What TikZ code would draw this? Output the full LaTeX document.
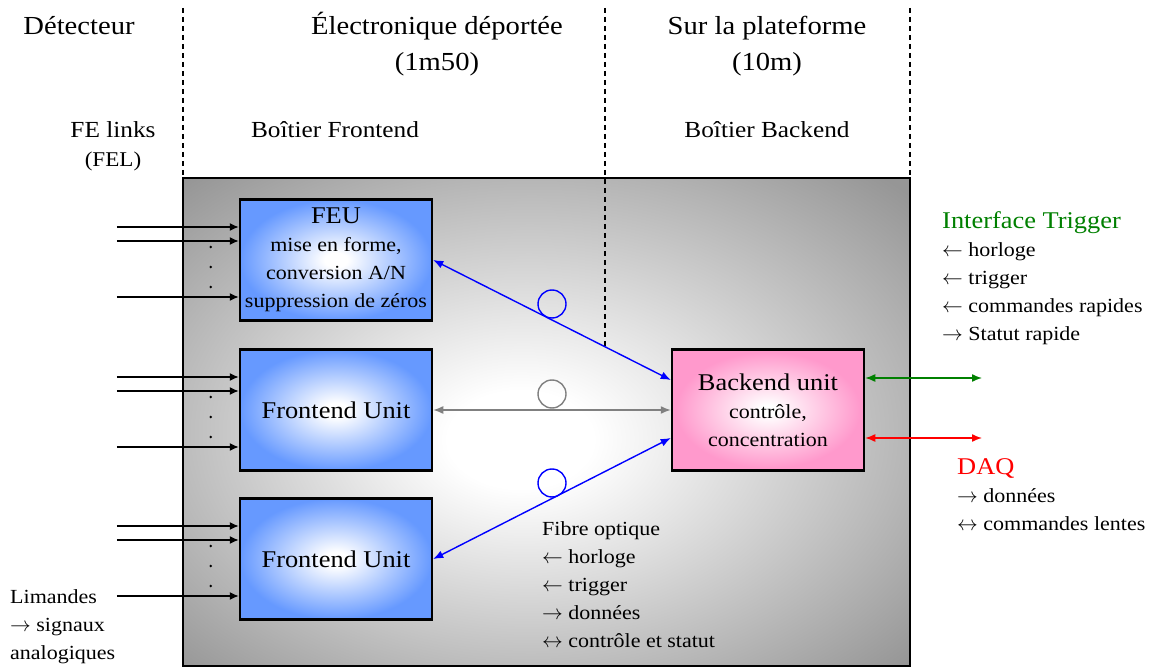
\documentclass[tikz,border=0pt]{standalone}
\usepackage{fontspec}
\setmainfont{Liberation Serif}[FakeStretch=1.1]
\usepackage{xcolor}
\usetikzlibrary{arrows.meta,calc}
\definecolor{feublue}{RGB}{102,153,255}
\definecolor{bepink}{RGB}{255,153,204}
\definecolor{boxgray}{RGB}{150,150,150}
\definecolor{trigreen}{RGB}{0,128,0}
\newcommand{\FT}{\fontsize{26}{30}\selectfont}
\newcommand{\FM}{\fontsize{23}{28}\selectfont}
\newcommand{\FB}{\fontsize{24}{28}\selectfont}
\newcommand{\FS}{\fontsize{20}{28}\selectfont}
\pgfdeclareradialshading{unitblue}{\pgfpoint{0bp}{0bp}}{color(0bp)=(white); color(3bp)=(white); color(25bp)=(feublue); color(50bp)=(feublue)}
\pgfdeclareradialshading{unitpink}{\pgfpoint{0bp}{0bp}}{color(0bp)=(white); color(2bp)=(white); color(24bp)=(bepink); color(50bp)=(bepink)}
\pgfdeclareradialshading{boxshade}{\pgfpoint{-2bp}{-2bp}}{color(0bp)=(white); color(5bp)=(white); color(35bp)=(boxgray); color(50bp)=(boxgray)}

\begin{document}
\begin{tikzpicture}[x=1pt,y=-1pt]
\tikzstyle{texto}=[draw=none,fill=none,black,inner sep=0pt]
\tikzstyle{sep}=[black,line width=1.3pt,dash pattern=on 5pt off 4pt]
\tikzstyle{unit}=[draw=black,line width=2.5pt,minimum width=192pt,minimum height=121pt,inner sep=0pt,align=center,shade,shading=unitblue]
\tikzstyle{bunit}=[unit,shading=unitpink]
\tikzstyle{input}=[black,line width=1.4pt,-{Latex[length=9pt,width=8pt]}]
\tikzstyle{fibre}=[blue,line width=1.4pt,{Latex[length=10pt,width=8pt]}-{Latex[length=10pt,width=8pt]}]
\tikzstyle{bobine}=[circle,draw,line width=1.4pt,minimum size=28pt,inner sep=0pt]

\useasboundingbox (0,0) rectangle (1160,668);
\draw[line width=2.5pt,shade,shading=boxshade] (183,178) rectangle (910,666);

\draw[sep] (183,8) -- (183,178);
\draw[sep] (605,8) -- (605,347);
\draw[sep] (910,8) -- (910,178);

\node[texto,font=\FT,anchor=base] (det) at (79,35) {Détecteur};
\node[texto,font=\FT,anchor=base] (elec) at (437,35) {Électronique déportée};
\node[texto,font=\FT,anchor=base] (elecd) at (437,71) {(1m50)};
\node[texto,font=\FT,anchor=base] (plat) at (767,35) {Sur la plateforme};
\node[texto,font=\FT,anchor=base] (platd) at (767,71) {(10m)};
\node[texto,font=\FM,anchor=base] (fel) at (113,138) {FE links};
\node[texto,font=\fontsize{21}{24}\selectfont,anchor=base] (feld) at (113,167) {(FEL)};
\node[texto,font=\FM,anchor=base] (bfe) at (335,138) {Boîtier Frontend};
\node[texto,font=\FM,anchor=base] (bbe) at (767,138) {Boîtier Backend};

\node[unit,font=\FS] (feu) at (336,260) {{\FB FEU}\\mise en forme,\\conversion A/N\\suppression de zéros};
\node[unit,font=\FB] (fu2) at (336,410) {Frontend Unit};
\node[unit,font=\FB] (fu3) at (336,559) {Frontend Unit};
\node[bunit,font=\FS] (be) at (768,410) {{\FB Backend unit}\\contrôle,\\concentration};

\foreach \u in {feu,fu2,fu3}{
  \foreach \dy/\k in {33/a,19/b,-37/c}{
    \coordinate (\u\k) at ([xshift=-122pt,yshift=\dy pt]\u.west);
    \draw[input] (\u\k) -- (\u\k -| \u.west);
  }
  \foreach \dy in {13,-7,-27}
    \fill ([xshift=-28pt,yshift=\dy pt]\u.west) circle (1.3pt);
}

\coordinate (beA) at ($(be.west)+(0,-30)$);
\coordinate (beC) at ($(be.west)+(0,28)$);
\draw[fibre] (feu.east) -- (beA);
\draw[fibre,gray] (fu2.east) -- (be.west);
\draw[fibre] (fu3.east) -- (beC);

\node[bobine,blue] (b1) at (552,304) {};
\node[bobine,gray] (b2) at (552,394) {};
\node[bobine,blue] (b3) at (552,483) {};

\coordinate (trig) at (982,378);
\coordinate (daq) at (982,438);
\draw[fibre,trigreen] (be.east |- trig) -- (trig);
\draw[fibre,red] (be.east |- daq) -- (daq);

\node[texto,font=\FB,trigreen,anchor=base west] (itrig) at (942,229) {Interface Trigger};
\node[texto,font=\FS,anchor=base west] (itrig1) at (942,257) {$\leftarrow$ horloge};
\node[texto,font=\FS,anchor=base west] (itrig2) at (942,285) {$\leftarrow$ trigger};
\node[texto,font=\FS,anchor=base west] (itrig3) at (942,313) {$\leftarrow$ commandes rapides};
\node[texto,font=\FS,anchor=base west] (itrig4) at (942,341) {$\rightarrow$ Statut rapide};

\node[texto,font=\FB,red,anchor=base west] (idaq) at (957,474) {DAQ};
\node[texto,font=\FS,anchor=base west] (idaq1) at (957,502) {$\rightarrow$ données};
\node[texto,font=\FS,anchor=base west] (idaq2) at (957,530) {$\leftrightarrow$ commandes lentes};

\node[texto,font=\FS,anchor=base west] (fib) at (542,535) {Fibre optique};
\node[texto,font=\FS,anchor=base west] (fib1) at (542,563) {$\leftarrow$ horloge};
\node[texto,font=\FS,anchor=base west] (fib2) at (542,591) {$\leftarrow$ trigger};
\node[texto,font=\FS,anchor=base west] (fib3) at (542,619) {$\rightarrow$ données};
\node[texto,font=\FS,anchor=base west] (fib4) at (542,647) {$\leftrightarrow$ contrôle et statut};

\node[texto,font=\FS,anchor=base west] (lim) at (10,603) {Limandes};
\node[texto,font=\FS,anchor=base west] (lim1) at (10,631) {$\rightarrow$ signaux};
\node[texto,font=\FS,anchor=base west] (lim2) at (10,659) {analogiques};
\end{tikzpicture}
\end{document}
